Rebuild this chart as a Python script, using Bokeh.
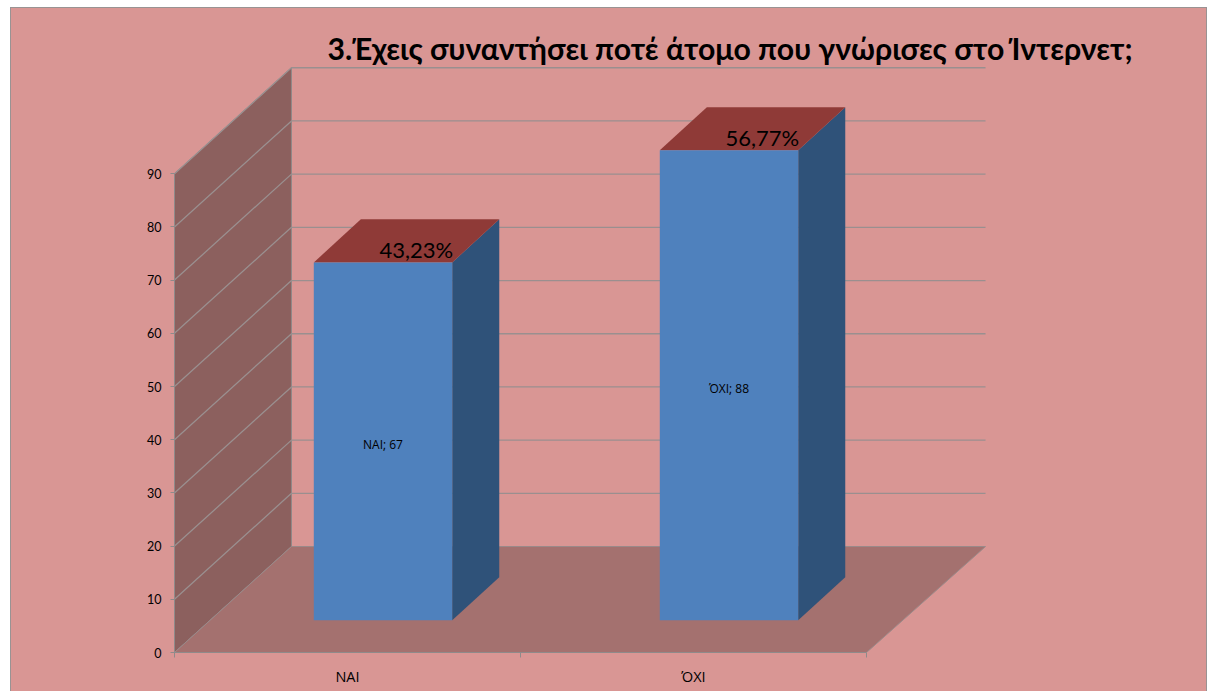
from bokeh.plotting import figure
from bokeh.embed import file_html
from bokeh.resources import INLINE
from bokeh.models import FixedTicker, Title, LinearAxis
from bokeh.core.properties import value

TITLE = "3.Έχεις συναντήσει ποτέ άτομο που γνώρισες στο Ίντερνετ;"
categories = ["ΝΑΙ", "ΌΧΙ"]
counts = [67, 88]
shares = ["43,23%", "56,77%"]
y_ticks = [0, 10, 20, 30, 40, 50, 60, 70, 80, 90]

BG = "#d99694"
EDGE = "#999393"
FONT = "Lato"
LABEL_FONT = "Open Sans"
# projection of the fake 3D box, in data units
WALL_DX, WALL_DY = 0.338, 19.92
BACK_EXTRA = 0.006
BAR_X, BAR_Y = 0.1026, 6.05
BAR_DX, BAR_DY = 0.136, 8.1
BAR_W = 0.4
BAR_SCALE = 1.004
Y_MAX_TICK = y_ticks[-1]
N = len(categories)

p = figure(width=1197, height=684, frame_width=1032, frame_height=586,
           x_range=(0, 1032 / 346), y_range=(0, 586 / 5.32),
           output_backend="svg", toolbar_location=None, tools="",
           min_border_left=164, min_border_right=1, min_border_bottom=39,
           min_border_top=59, x_axis_type=None, y_axis_type=None,
           margin=(7, 0, 0, 10))
p.background_fill_color = None
p.border_fill_color = None
p.outline_line_color = None
p.grid.visible = False
p.styles = {"background": (f"linear-gradient({EDGE},{EDGE}) top/100% 1px no-repeat,"
                           f"linear-gradient({EDGE},{EDGE}) left/1px 100% no-repeat,"
                           f"linear-gradient({EDGE},{EDGE}) right/1px 100% no-repeat,"
                           f"{BG}")}

# walls and floor
p.patch([0, WALL_DX, WALL_DX, 0], [0, WALL_DY, Y_MAX_TICK + WALL_DY, Y_MAX_TICK],
        fill_color="#8c605e", line_color="#8f8a8a", line_width=1)
p.patch([0, N, N + WALL_DX + BACK_EXTRA, WALL_DX], [0, 0, WALL_DY, WALL_DY],
        fill_color="#a4716f", line_color="#9a8a8a", line_width=1)

# gridlines on back and side walls
gx, gy = [], []
for v in y_ticks:
    if v > 0:
        gx.append([0, WALL_DX, N + WALL_DX + BACK_EXTRA])
        gy.append([v, v + WALL_DY, v + WALL_DY])
p.multi_line(gx, gy, line_color="#9a8f8f", line_width=1.3)

# bars
for i, (cat, c, s) in enumerate(zip(categories, counts, shares)):
    l = i + 0.5 - BAR_W / 2 + BAR_X
    r = l + BAR_W
    b = BAR_Y
    t = c * BAR_SCALE + BAR_Y
    p.patch([r, r + BAR_DX, r + BAR_DX, r], [b, b + BAR_DY, t + BAR_DY, t],
            fill_color="#2f5279", line_color=None)
    p.patch([l, r, r + BAR_DX, l + BAR_DX], [t, t, t + BAR_DY, t + BAR_DY],
            fill_color="#8f3a37", line_color=None)
    p.quad(left=[l], right=[r], bottom=[b], top=[t],
           fill_color="#4f81bd", line_color=None)
    p.text([(l + r) / 2], [(b + t) / 2], text=[f"{cat}; {c}"], text_align="center",
           text_baseline="middle", y_offset=3, text_font=value(LABEL_FONT),
           text_font_size="12px", text_color="#000000")
    p.text([r], [t], text=[s], text_align="right", text_baseline="middle",
           x_offset=1, y_offset=-13, text_font=value(FONT), text_font_size="22px",
           text_color="#000000")

# axes
ya = LinearAxis(ticker=FixedTicker(ticks=y_ticks), bounds=(0, Y_MAX_TICK))
ya.axis_line_color = "#8f8a8a"
ya.major_tick_line_color = "#8f8a8a"
ya.major_tick_in = 0
ya.major_tick_out = 4
ya.minor_tick_line_color = None
ya.major_label_text_font = FONT
ya.major_label_text_font_size = "12.5px"
ya.major_label_text_color = "#000000"
ya.major_label_standoff = 9
p.add_layout(ya, "left")

xa = LinearAxis(ticker=FixedTicker(ticks=[i + 0.5 for i in range(N)], minor_ticks=list(range(N + 1))),
                bounds=(0, N))
xa.major_label_overrides = {i + 0.5: c for i, c in enumerate(categories)}
xa.axis_line_color = "#8f8a8a"
xa.major_tick_line_color = None
xa.major_tick_in = 0
xa.major_tick_out = 0
xa.minor_tick_line_color = "#8f8a8a"
xa.minor_tick_in = 0
xa.minor_tick_out = 5
xa.major_label_text_font = LABEL_FONT
xa.major_label_text_font_size = "14.5px"
xa.major_label_text_color = "#000000"
xa.major_label_standoff = 9
p.add_layout(xa, "below")

ttl = Title(text=TITLE, text_font=FONT, text_font_size="30.2px", text_font_style="bold",
            text_color="#000000", align="left", offset=153, standoff=1)
p.add_layout(ttl, "above")

open("out.html", "w").write(file_html(p, INLINE))
